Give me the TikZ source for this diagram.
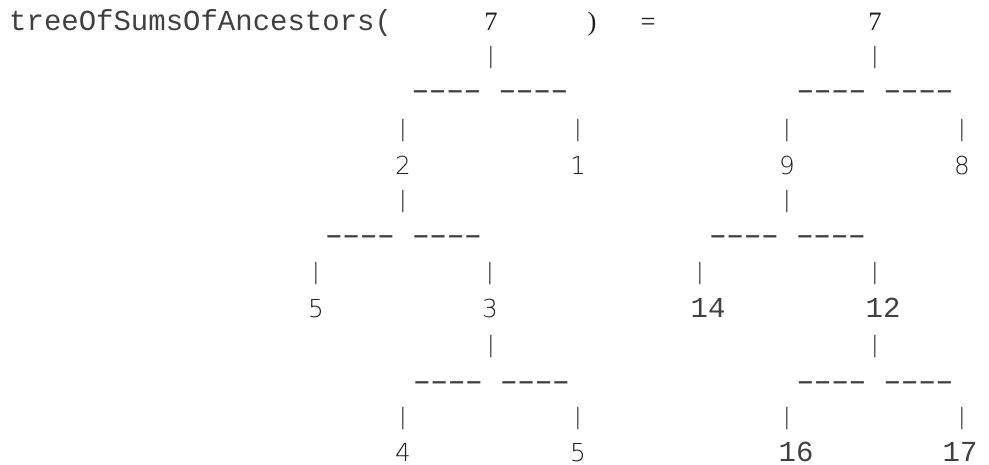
\documentclass[tikz,border=0pt]{standalone}
\usepackage{fontspec}
\setmonofont{Liberation Mono}
\newfontfamily\digitfont{DejaVu Sans ExtraLight}
\newfontfamily\seriffont{Liberation Serif}
\usepackage{graphicx}
\usepackage{xcolor}
\usepackage{tikz}
\definecolor{ink}{HTML}{1E1E1E}
\definecolor{monoink}{HTML}{404040}
% one wide hyphen per monospace cell
\newcommand\dashcell{\makebox[17.4pt]{\scalebox{1.65}[1]{-}}}
\newcommand\forktext{\dashcell\dashcell\dashcell\dashcell\makebox[17.4pt]{}\dashcell\dashcell\dashcell\dashcell}

\begin{document}
\begin{tikzpicture}[
  x=1pt,y=-1pt,
  every node/.style={inner sep=0pt,text=ink,anchor=base},
  mono/.style={font=\ttfamily\fontsize{29}{29}\selectfont,text=monoink},
  num/.style={font=\digitfont\fontsize{24.7}{24.7}\selectfont},
  sernum/.style={font=\seriffont\fontsize{26.6}{26.6}\selectfont},
  vbar/.style={font=\digitfont\fontsize{22.5}{22.5}\selectfont,anchor=center},
  hbar/.style={mono}
]
\useasboundingbox (0,0) rectangle (989,465);
% call and result
\node[mono,anchor=base west] (call) at (9,31) {treeOfSumsOfAncestors(};
\node[sernum] (in7) at (491,31) {7};
\node[sernum] (close) at (592,31) {)};
\node[sernum] (eq) at (648,31) {=};
\node[sernum] (out7) at (875,31) {7};
% input tree
\node[num] (in2) at (403,175) {2};
\node[num] (in1) at (578,175) {1};
\node[num] (in5) at (316,318) {5};
\node[num] (in3) at (490,318) {3};
\node[num] (in4) at (403,461) {4};
\node[num] (in5b) at (578,461) {5};
% sums tree
\node[num] (out9) at (787,175) {9};
\node[num] (out8) at (962,175) {8};
\node[mono] (out14) at (708,318) {14};
\node[mono] (out12) at (883,318) {12};
\node[mono] (out16) at (796,461) {16};
\node[mono] (out17) at (960,461) {17};
% ascii branches
\foreach \x/\y [count=\i] in {491/58,875/58,403/131,578/131,787/131,962/131,
  403/202,787/202,316/274,490/274,700/274,875/274,491/347,875/347,
  403/419,578/419,787/419,962/419}
  \node[vbar] (bar\i) at (\x,\y) {|};
\foreach \x/\y [count=\i] in {490/100,875/100,403.5/245,787.5/245,491.5/390,875/390}
  \node[hbar] (fork\i) at (\x,\y) {\forktext};
\end{tikzpicture}
\end{document}
